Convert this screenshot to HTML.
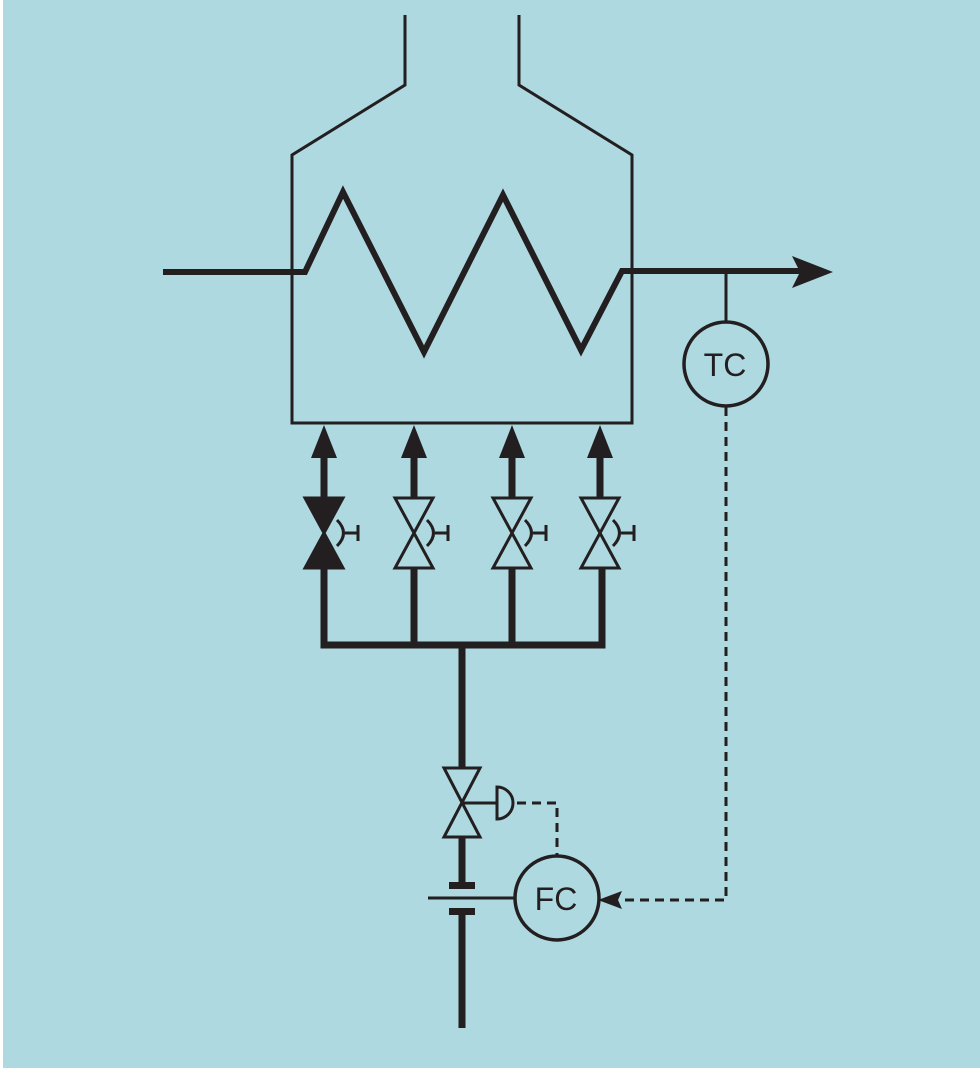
<!DOCTYPE html>
<html><head><style>html,body{margin:0;padding:0;background:#aed9e1;}svg{display:block}</style></head>
<body>
<svg width="980" height="1068" viewBox="0 0 980 1068" xmlns="http://www.w3.org/2000/svg">
<rect x="0" y="0" width="980" height="1068" fill="#aed9e1"/>
<rect x="0" y="0" width="3" height="1068" fill="#ffffff"/>
<g fill="none" stroke="#231f20" stroke-linejoin="miter">
<path d="M405 15 V85 L292 155 V423 H632 V155 L519 85 V15" stroke-width="3"/>
<path d="M163 272 H305 L343 192 L424 352 L503 195 L581 350 L622 271 H800" stroke-width="6"/>
<line x1="726" y1="272" x2="726" y2="321" stroke-width="3"/>
<circle cx="726" cy="364" r="42" stroke-width="3.5"/>
<path d="M726 407 V900 H620" stroke-width="3" stroke-dasharray="9,6"/>
<circle cx="557" cy="898" r="42" stroke-width="3.5"/>
<path d="M517 803 H557 V856" stroke-width="3" stroke-dasharray="9,6"/>
<path d="M324 458 V498 M414 458 V498 M512 458 V498 M600 458 V498" stroke-width="7"/>
<path d="M324 568 V645 H602 V568 M414 568 V645 M512 568 V645 M462 645 V768 M462 837 V884 M462 912 V1028" stroke-width="7"/>
<line x1="428" y1="898" x2="515" y2="898" stroke-width="3"/>
<path d="M462 803 H497" stroke-width="3"/>
<path d="M497 787 A16 16 0 0 1 497 819 Z" stroke-width="3"/>
<path d="M444 768 H480 L444 837 H480 Z" stroke-width="3"/>
</g>
<g fill="#231f20">
<path d="M833 272 L792 256 L800 272 L792 288 Z"/>
<path d="M598 900 L622 891 L618 900 L622 909 Z"/>
<rect x="449" y="882" width="26" height="7"/>
<rect x="449" y="908" width="26" height="7"/>
<path d="M324 425 L311 458 H337 Z M414 425 L401 458 H427 Z M512 425 L499 458 H525 Z M600 425 L587 458 H613 Z"/>
<path d="M305 498 H343 L305 568 H343 Z" stroke="#231f20" stroke-width="3"/>
</g>
<g fill="none" stroke="#231f20" stroke-width="3">
<path d="M395 498 H433 L395 568 H433 Z"/>
<path d="M493 498 H531 L493 568 H531 Z"/>
<path d="M581 498 H619 L581 568 H619 Z"/>
</g>
<g fill="none" stroke="#231f20" stroke-width="3">
<path d="M337 520 Q350 533 337 546 M345 533 H358 M358 525 V541"/>
<path d="M427 520 Q440 533 427 546 M435 533 H448 M448 525 V541"/>
<path d="M525 520 Q538 533 525 546 M533 533 H546 M546 525 V541"/>
<path d="M613 520 Q626 533 613 546 M621 533 H634 M634 525 V541"/>
</g>
<g font-family="Liberation Sans, sans-serif" font-size="32" fill="#231f20" text-anchor="middle">
<text x="725" y="376">TC</text>
<text x="556" y="910">FC</text>
</g>
</svg>
</body></html>
